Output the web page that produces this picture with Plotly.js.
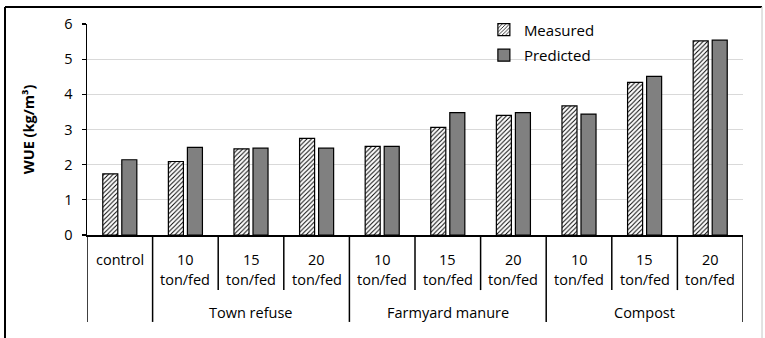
<!DOCTYPE html>
<html>
<head>
<meta charset="utf-8">
<script src="https://cdn.plot.ly/plotly-3.0.1.min.js"></script>
<style>html,body{margin:0;padding:0;background:#fff;}#chart{width:765px;height:338px;}</style>
</head>
<body>
<div id="chart"></div>
<script>
const groups = ["", "Town refuse", "Town refuse", "Town refuse", "Farmyard manure", "Farmyard manure", "Farmyard manure", "Compost", "Compost", "Compost"];
const doses = ["control", "10", "15", "20", "10", "15", "20", "10", "15", "20"];
const units = ["", "ton/fed", "ton/fed", "ton/fed", "ton/fed", "ton/fed", "ton/fed", "ton/fed", "ton/fed", "ton/fed"];
const measured = [1.74, 2.09, 2.45, 2.75, 2.52, 3.06, 3.40, 3.67, 4.34, 5.52];
const predicted = [2.14, 2.49, 2.47, 2.47, 2.52, 3.48, 3.48, 3.44, 4.51, 5.54];
const yTicks = [0, 1, 2, 3, 4, 5, 6];

const keys = doses.map((d, i) => (groups[i] || "none") + " " + d);
const FONT = "Open Sans, Liberation Sans, sans-serif";

const traces = [
  {
    type: "bar", name: "Measured", x: keys, y: measured, legendgroup: "m",
    marker: {color: "#ffffff", line: {color: "#000000", width: 1.2},
             pattern: {shape: "/", fgcolor: "#000000", bgcolor: "#ffffff", size: 3.2, solidity: 0.3}},
    hoverinfo: "y"
  },
  {
    type: "bar", name: "Predicted", x: keys, y: predicted, legendgroup: "p",
    marker: {color: "#808080", line: {color: "#000000", width: 1.2}},
    hoverinfo: "y"
  }
];

// table-like multi-level category axis
const shapes = [];
const annotations = [];
const rowTop = -0.114, rowBot = -0.213, groupRow = -0.365;
const shortEnd = -0.261, longEnd = -0.412;
const LBL = {family: FONT, size: 14.5, color: "#000"};
for (let b = 0; b <= keys.length; b++) {
  const isGroupEdge = b === 0 || b === keys.length || groups[b] !== groups[b - 1];
  shapes.push({type: "line", xref: "x", yref: "paper", x0: b - 0.5, x1: b - 0.5, y0: 0, y1: isGroupEdge ? longEnd : shortEnd,
               line: {color: "#000000", width: 1.5}});
}
keys.forEach((k, i) => {
  annotations.push({xref: "x", yref: "paper", x: k, y: rowTop, text: doses[i], showarrow: false, font: LBL, yanchor: "middle"});
  if (units[i]) annotations.push({xref: "x", yref: "paper", x: k, y: rowBot, text: units[i], showarrow: false, font: LBL, yanchor: "middle"});
});
const uniqueGroups = [...new Set(groups)].filter(g => g);
uniqueGroups.forEach(g => {
  const idx = groups.map((x, i) => x === g ? i : -1).filter(i => i >= 0);
  const c = (idx[0] + idx[idx.length - 1]) / 2;
  annotations.push({xref: "x", yref: "paper", x: c, y: groupRow, text: g, showarrow: false, font: LBL, yanchor: "middle"});
});
// outer frame
shapes.push({type: "line", xref: "paper", yref: "paper", x0: -0.125, x1: 1.029, y0: 1.08, y1: 1.08, line: {color: "#000", width: 2}});
shapes.push({type: "line", xref: "paper", yref: "paper", x0: -0.125, x1: -0.125, y0: 1.08, y1: -0.6, line: {color: "#000", width: 2}});
shapes.push({type: "line", xref: "paper", yref: "paper", x0: 1.029, x1: 1.029, y0: 1.08, y1: -0.6, line: {color: "#d9d9d9", width: 1.5}});

const layout = {
  width: 765, height: 338,
  margin: {l: 87, r: 22, t: 24, b: 103},
  paper_bgcolor: "#ffffff", plot_bgcolor: "#ffffff",
  font: {family: FONT, color: "#000"},
  barmode: "group", bargap: 0.42, bargroupgap: 0.21,
  showlegend: true,
  legend: {x: 0.605, y: 1.05, xanchor: "left", yanchor: "top", bgcolor: "rgba(0,0,0,0)",
           font: {family: FONT, size: 15, color: "#000"}, tracegroupgap: 3},
  xaxis: {type: "category", categoryarray: keys, categoryorder: "array", range: [-0.5, keys.length - 0.5],
          showticklabels: false, ticks: "", showgrid: false, zeroline: false,
          showline: true, linecolor: "#000", linewidth: 1.5},
  yaxis: {range: [0, 6], tickvals: yTicks, ticktext: yTicks.map(String), showgrid: true, gridcolor: "#d9d9d9", gridwidth: 1,
          zeroline: false, showline: true, linecolor: "#000", linewidth: 1.5,
          ticks: "outside", ticklen: 4, tickcolor: "#000", tickwidth: 1.2, ticklabelstandoff: 6,
          tickfont: {family: FONT, size: 14.5, color: "#000"},
          title: {text: "WUE (kg/m³)", standoff: 26, font: {family: FONT, size: 14.5, color: "#000", weight: "bold"}}},
  shapes: shapes,
  annotations: annotations
};

Plotly.newPlot("chart", traces, layout, {displayModeBar: false, staticPlot: true});
</script>
</body>
</html>
